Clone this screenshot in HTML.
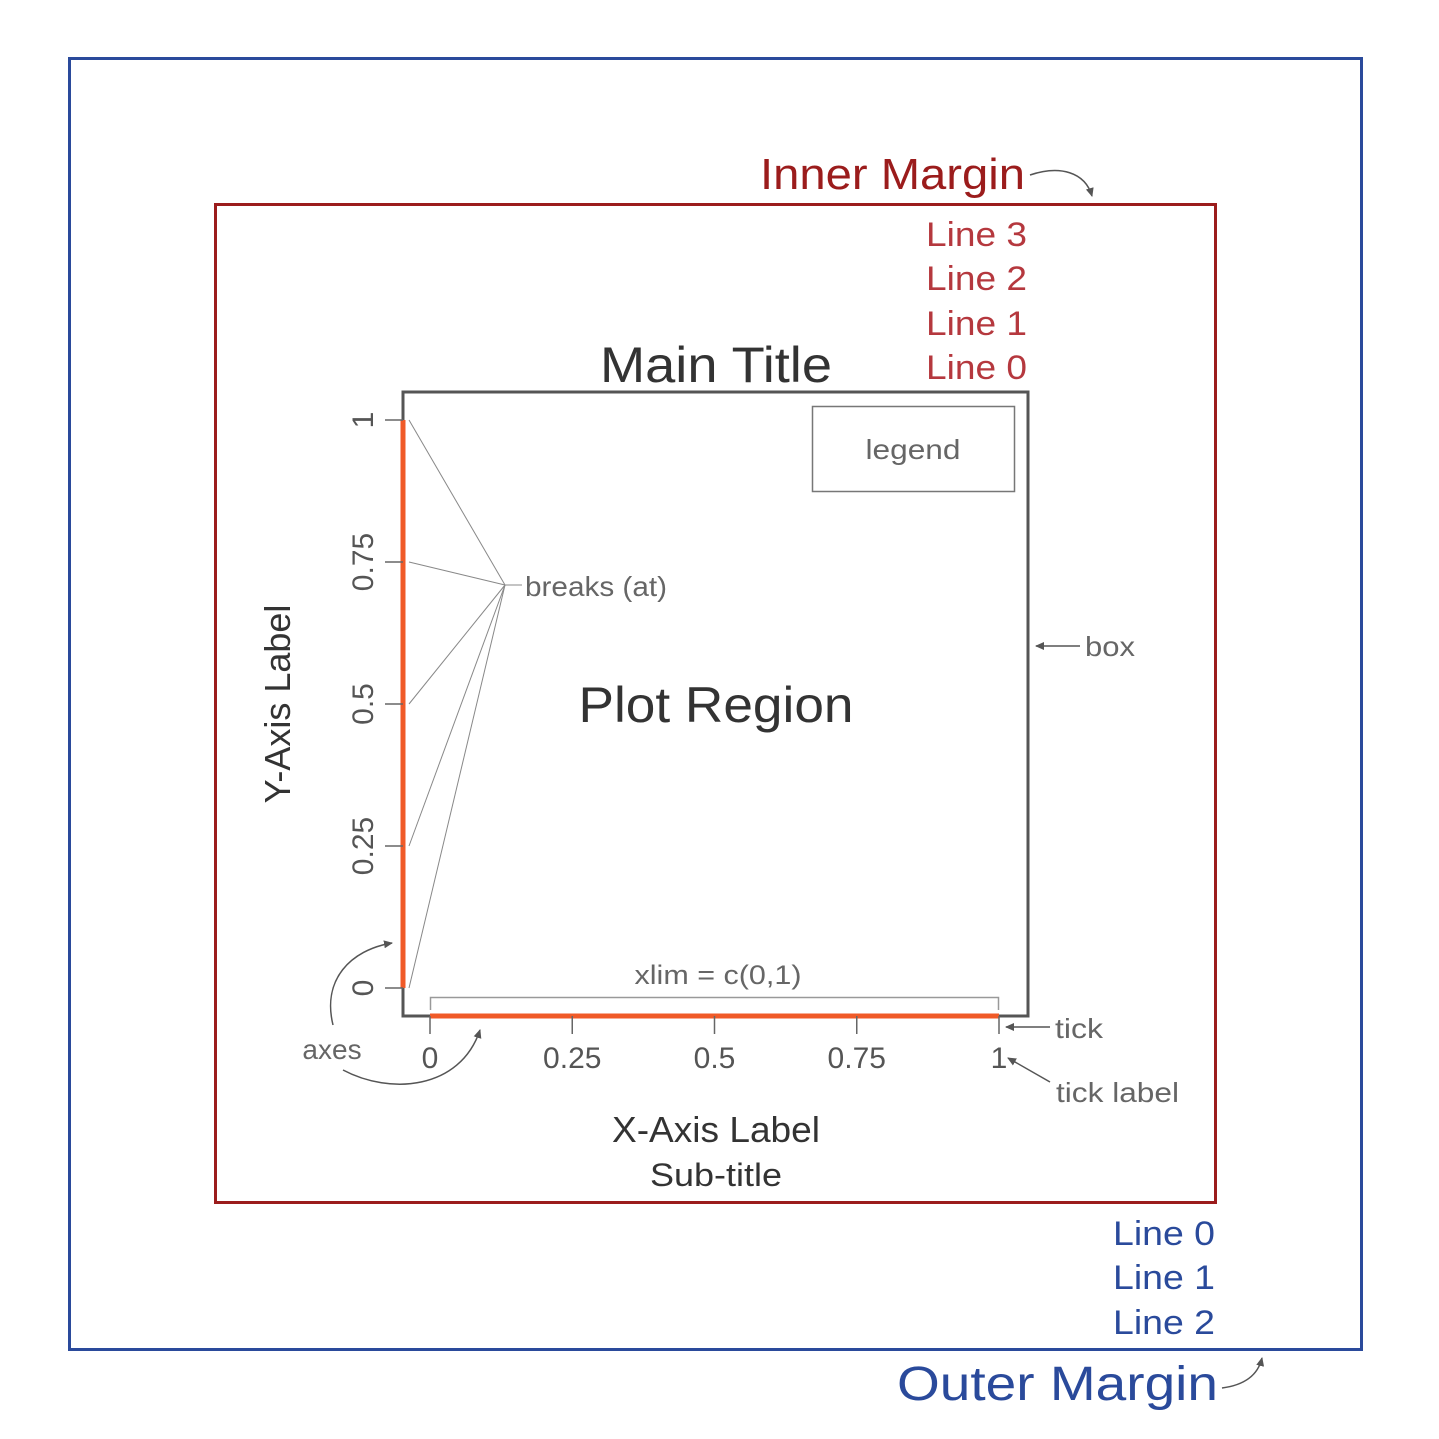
<!DOCTYPE html>
<html><head><meta charset="utf-8"><style>
html,body{margin:0;padding:0;background:#fff;}
svg{display:block;font-family:"Liberation Sans","DejaVu Sans",sans-serif;}
</style></head><body>
<svg id="chart" width="1439" height="1439" viewBox="0 0 1439 1439">
<defs>
<marker id="ah" markerWidth="10" markerHeight="10" refX="8" refY="5" orient="auto" markerUnits="userSpaceOnUse"><path d="M0,1 L9,5 L0,9 z" fill="#555"/></marker>
</defs>
<rect x="69.5" y="58.5" width="1292" height="1291" fill="none" stroke="#2a4a9b" stroke-width="3"/>
<rect x="215.5" y="204.5" width="1000" height="998" fill="none" stroke="#9b1c1c" stroke-width="3"/>
<text x="1025" y="189" font-size="44" fill="#9b1c1c" text-anchor="end" textLength="265" lengthAdjust="spacingAndGlyphs">Inner Margin</text>
<path d="M1030,175 C1060,165 1085,172 1092,196" fill="none" stroke="#555" stroke-width="1.5" marker-end="url(#ah)"/>
<g font-size="34" fill="#b5383e" text-anchor="end">
<text x="1027" y="246" textLength="101" lengthAdjust="spacingAndGlyphs">Line 3</text><text x="1027" y="290" textLength="101" lengthAdjust="spacingAndGlyphs">Line 2</text><text x="1027" y="335" textLength="101" lengthAdjust="spacingAndGlyphs">Line 1</text><text x="1027" y="379" textLength="101" lengthAdjust="spacingAndGlyphs">Line 0</text>
</g>
<g font-size="34" fill="#2a4a9b" text-anchor="end">
<text x="1215" y="1245" textLength="102" lengthAdjust="spacingAndGlyphs">Line 0</text><text x="1215" y="1289" textLength="102" lengthAdjust="spacingAndGlyphs">Line 1</text><text x="1215" y="1334" textLength="102" lengthAdjust="spacingAndGlyphs">Line 2</text>
</g>
<text x="1218" y="1400" font-size="48" fill="#2a4a9b" text-anchor="end" textLength="321" lengthAdjust="spacingAndGlyphs">Outer Margin</text>
<path d="M1222,1388 C1245,1385 1258,1375 1262,1358" fill="none" stroke="#555" stroke-width="1.5" marker-end="url(#ah)"/>
<text x="716" y="382" font-size="50" fill="#333" text-anchor="middle" textLength="232" lengthAdjust="spacingAndGlyphs">Main Title</text>
<rect x="403" y="392" width="625" height="624" fill="none" stroke="#555" stroke-width="3"/>
<rect x="812.5" y="406.5" width="202" height="85" fill="none" stroke="#777" stroke-width="1.5"/>
<text x="913" y="459" font-size="28" fill="#666" text-anchor="middle" textLength="95" lengthAdjust="spacingAndGlyphs">legend</text>
<text x="716" y="722" font-size="50" fill="#333" text-anchor="middle" textLength="275" lengthAdjust="spacingAndGlyphs">Plot Region</text>
<text x="1085" y="656" font-size="28" fill="#666" textLength="50" lengthAdjust="spacingAndGlyphs">box</text>
<line x1="1080" y1="646" x2="1036" y2="646" stroke="#555" stroke-width="1.5" marker-end="url(#ah)"/>
<g id="axes"></g>
<text x="525" y="596" font-size="28" fill="#666" textLength="142" lengthAdjust="spacingAndGlyphs">breaks (at)</text>
<text x="718" y="984" font-size="27" fill="#666" text-anchor="middle" textLength="167" lengthAdjust="spacingAndGlyphs">xlim = c(0,1)</text>
<path d="M430.5,1010 V997.5 H998.5 V1010" fill="none" stroke="#999" stroke-width="1.5"/>
<text x="1055" y="1038" font-size="28" fill="#666" textLength="48" lengthAdjust="spacingAndGlyphs">tick</text>
<line x1="1050" y1="1027" x2="1006" y2="1027" stroke="#555" stroke-width="1.5" marker-end="url(#ah)"/>
<text x="1056" y="1102" font-size="28" fill="#666" textLength="123" lengthAdjust="spacingAndGlyphs">tick label</text>
<line x1="1050" y1="1082" x2="1008" y2="1058" stroke="#555" stroke-width="1.5" marker-end="url(#ah)"/>
<text x="332" y="1059" font-size="28" fill="#666" text-anchor="middle">axes</text>
<path d="M333,1025 C322,980 350,950 392,943" fill="none" stroke="#555" stroke-width="1.5" marker-end="url(#ah)"/>
<path d="M343,1070 C390,1095 460,1090 480,1030" fill="none" stroke="#555" stroke-width="1.5" marker-end="url(#ah)"/>
<text x="716" y="1142" font-size="36" fill="#333" text-anchor="middle" textLength="208" lengthAdjust="spacingAndGlyphs">X-Axis Label</text>
<text x="716" y="1186" font-size="32" fill="#333" text-anchor="middle" textLength="132" lengthAdjust="spacingAndGlyphs">Sub-title</text>
<text transform="translate(290,704) rotate(-90)" font-size="36" fill="#333" text-anchor="middle">Y-Axis Label</text>
</svg>
<script>
const xTicks = [0, 0.25, 0.5, 0.75, 1];
const xTickLabels = ["0", "0.25", "0.5", "0.75", "1"];
const yTicks = [0, 0.25, 0.5, 0.75, 1];
const yTickLabels = ["0", "0.25", "0.5", "0.75", "1"];
const xlim = [0, 1];
const ylim = [0, 1];
const NS = "http://www.w3.org/2000/svg";
function xs(v){ return 430 + (v - xlim[0]) / (xlim[1] - xlim[0]) * 569; }
function ys(v){ return 988 - (v - ylim[0]) / (ylim[1] - ylim[0]) * 568; }
const g = document.getElementById("axes");
function mk(tag, attrs){ const e = document.createElementNS(NS, tag); for (const k in attrs) e.setAttribute(k, attrs[k]); g.appendChild(e); return e; }
let e = mk("line", {x1: xs(xlim[0]), x2: xs(xlim[1]), y1: 1016, y2: 1016, stroke: "#f05a28", "stroke-width": 5});


e = mk("line", {x1: 403, x2: 403, y1: ys(ylim[0]), y2: ys(ylim[1]), stroke: "#f05a28", "stroke-width": 5});


xTicks.forEach((v, i) => {
  const t = mk("line", {x1: xs(v), x2: xs(v), y1: 1016, y2: 1034, stroke: "#666", "stroke-width": 1.5});
  
  
  const l = mk("text", {x: xs(v), y: 1068, "font-size": 30, fill: "#555", "text-anchor": "middle"});
  l.textContent = xTickLabels[i];
  
  
});
yTicks.forEach((v, i) => {
  const t = mk("line", {x1: 385, x2: 403, y1: ys(v), y2: ys(v), stroke: "#666", "stroke-width": 1.5});
  
  
  const l = mk("text", {transform: "translate(373," + ys(v) + ") rotate(-90)", "font-size": 30, fill: "#555", "text-anchor": "middle"});
  l.textContent = yTickLabels[i];
  
  
  const b = mk("line", {x1: 409, y1: ys(v), x2: 505, y2: 585, stroke: "#888", "stroke-width": 1});
  
  
});
e = mk("line", {x1: 505, y1: 585, x2: 522, y2: 585, stroke: "#888", "stroke-width": 1});


</script>
</body></html>
